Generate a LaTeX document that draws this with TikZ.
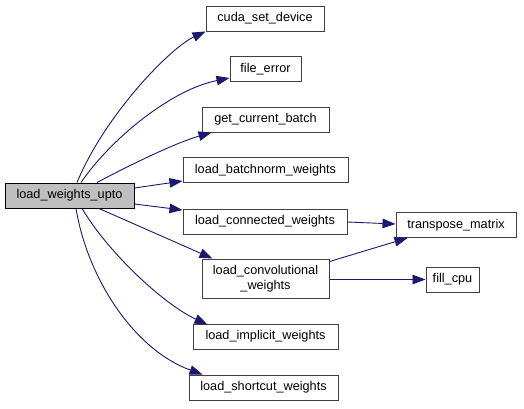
\documentclass[tikz,border=0pt]{standalone}
\usepackage{fontspec}
\setmainfont{Liberation Sans}
\usetikzlibrary{arrows.meta,calc}
\definecolor{edgeblue}{HTML}{191970}
\definecolor{boxline}{HTML}{404040}
\definecolor{mainfill}{HTML}{BFBFBF}
\tikzset{
  fn/.style={draw=boxline, line width=1pt, fill=white, inner sep=0pt, minimum height=25pt,
             font=\fontsize{12.7}{15}\selectfont, align=center},
  mainfn/.style={fn, draw=black, fill=mainfill},
  call/.style={draw=edgeblue, line width=0.9pt, -{Triangle[length=13pt,width=9.5pt]}}
}
\begin{document}
\begin{tikzpicture}[x=1pt,y=-1pt]
\useasboundingbox[fill=white] (0,0) rectangle (524,408);
\node[mainfn, minimum width=129pt] (main) at (69.5,195.5) {load\_weights\_upto};
\node[fn, minimum width=118pt] (cuda) at (265,18.5) {cuda\_set\_device};
\node[fn, minimum width=71pt] (fe) at (265.5,69) {file\_error};
\node[fn, minimum width=127pt] (gcb) at (265.5,119.5) {get\_current\_batch};
\node[fn, minimum width=165pt] (bn) at (265.5,170) {load\_batchnorm\_weights};
\node[fn, minimum width=164pt] (cw) at (265,221.5) {load\_connected\_weights};
\node[fn, minimum width=127pt, minimum height=39pt] (cv) at (265.5,278.5) {load\_convolutional\\\_weights};
\node[fn, minimum width=145pt] (iw) at (265.5,336.5) {load\_implicit\_weights};
\node[fn, minimum width=149pt] (sw) at (263.5,387.5) {load\_shortcut\_weights};
\node[fn, minimum width=120pt] (tm) at (456,225) {transpose\_matrix};
\node[fn, minimum width=53pt] (fc) at (452.5,279.5) {fill\_cpu};

\draw[call] ($(main.north)+(7.5,0)$) .. controls (105,115) and (170,48) .. (cuda.south west);
\draw[call] ($(main.north)+(11.5,0)$) .. controls (110,140) and (170,90) .. ($(fe.west)+(0,9)$);
\draw[call] ($(main.north)+(27.5,0)$) .. controls (130,165) and (175,143) .. ($(gcb.south west)+(10,0)$);
\draw[call] ($(main.east)+(0,-7.5)$) -- ($(bn.west)+(0,11)$);
\draw[call] ($(main.east)+(0,8.5)$) -- ($(cw.west)+(0,-11.5)$);
\draw[call] ($(main.south)+(29.5,0)$) -- ($(cv.north west)+(11,0)$);
\draw[call] ($(main.south)+(12.5,0)$) .. controls (110,255) and (165,305) .. ($(iw.north west)+(15,1)$);
\draw[call] ($(main.south)+(6.5,0)$) .. controls (88,280) and (135,350) .. ($(sw.north west)+(14,0)$);
\draw[call] ($(cw.east)+(0,0.5)$) -- ($(tm.west)+(0,-1)$);
\draw[call] ($(cv.north east)+(0,3)$) -- ($(tm.south west)+(12,0)$);
\draw[call] ($(cv.east)+(0,1)$) -- (fc.west);
\end{tikzpicture}
\end{document}
